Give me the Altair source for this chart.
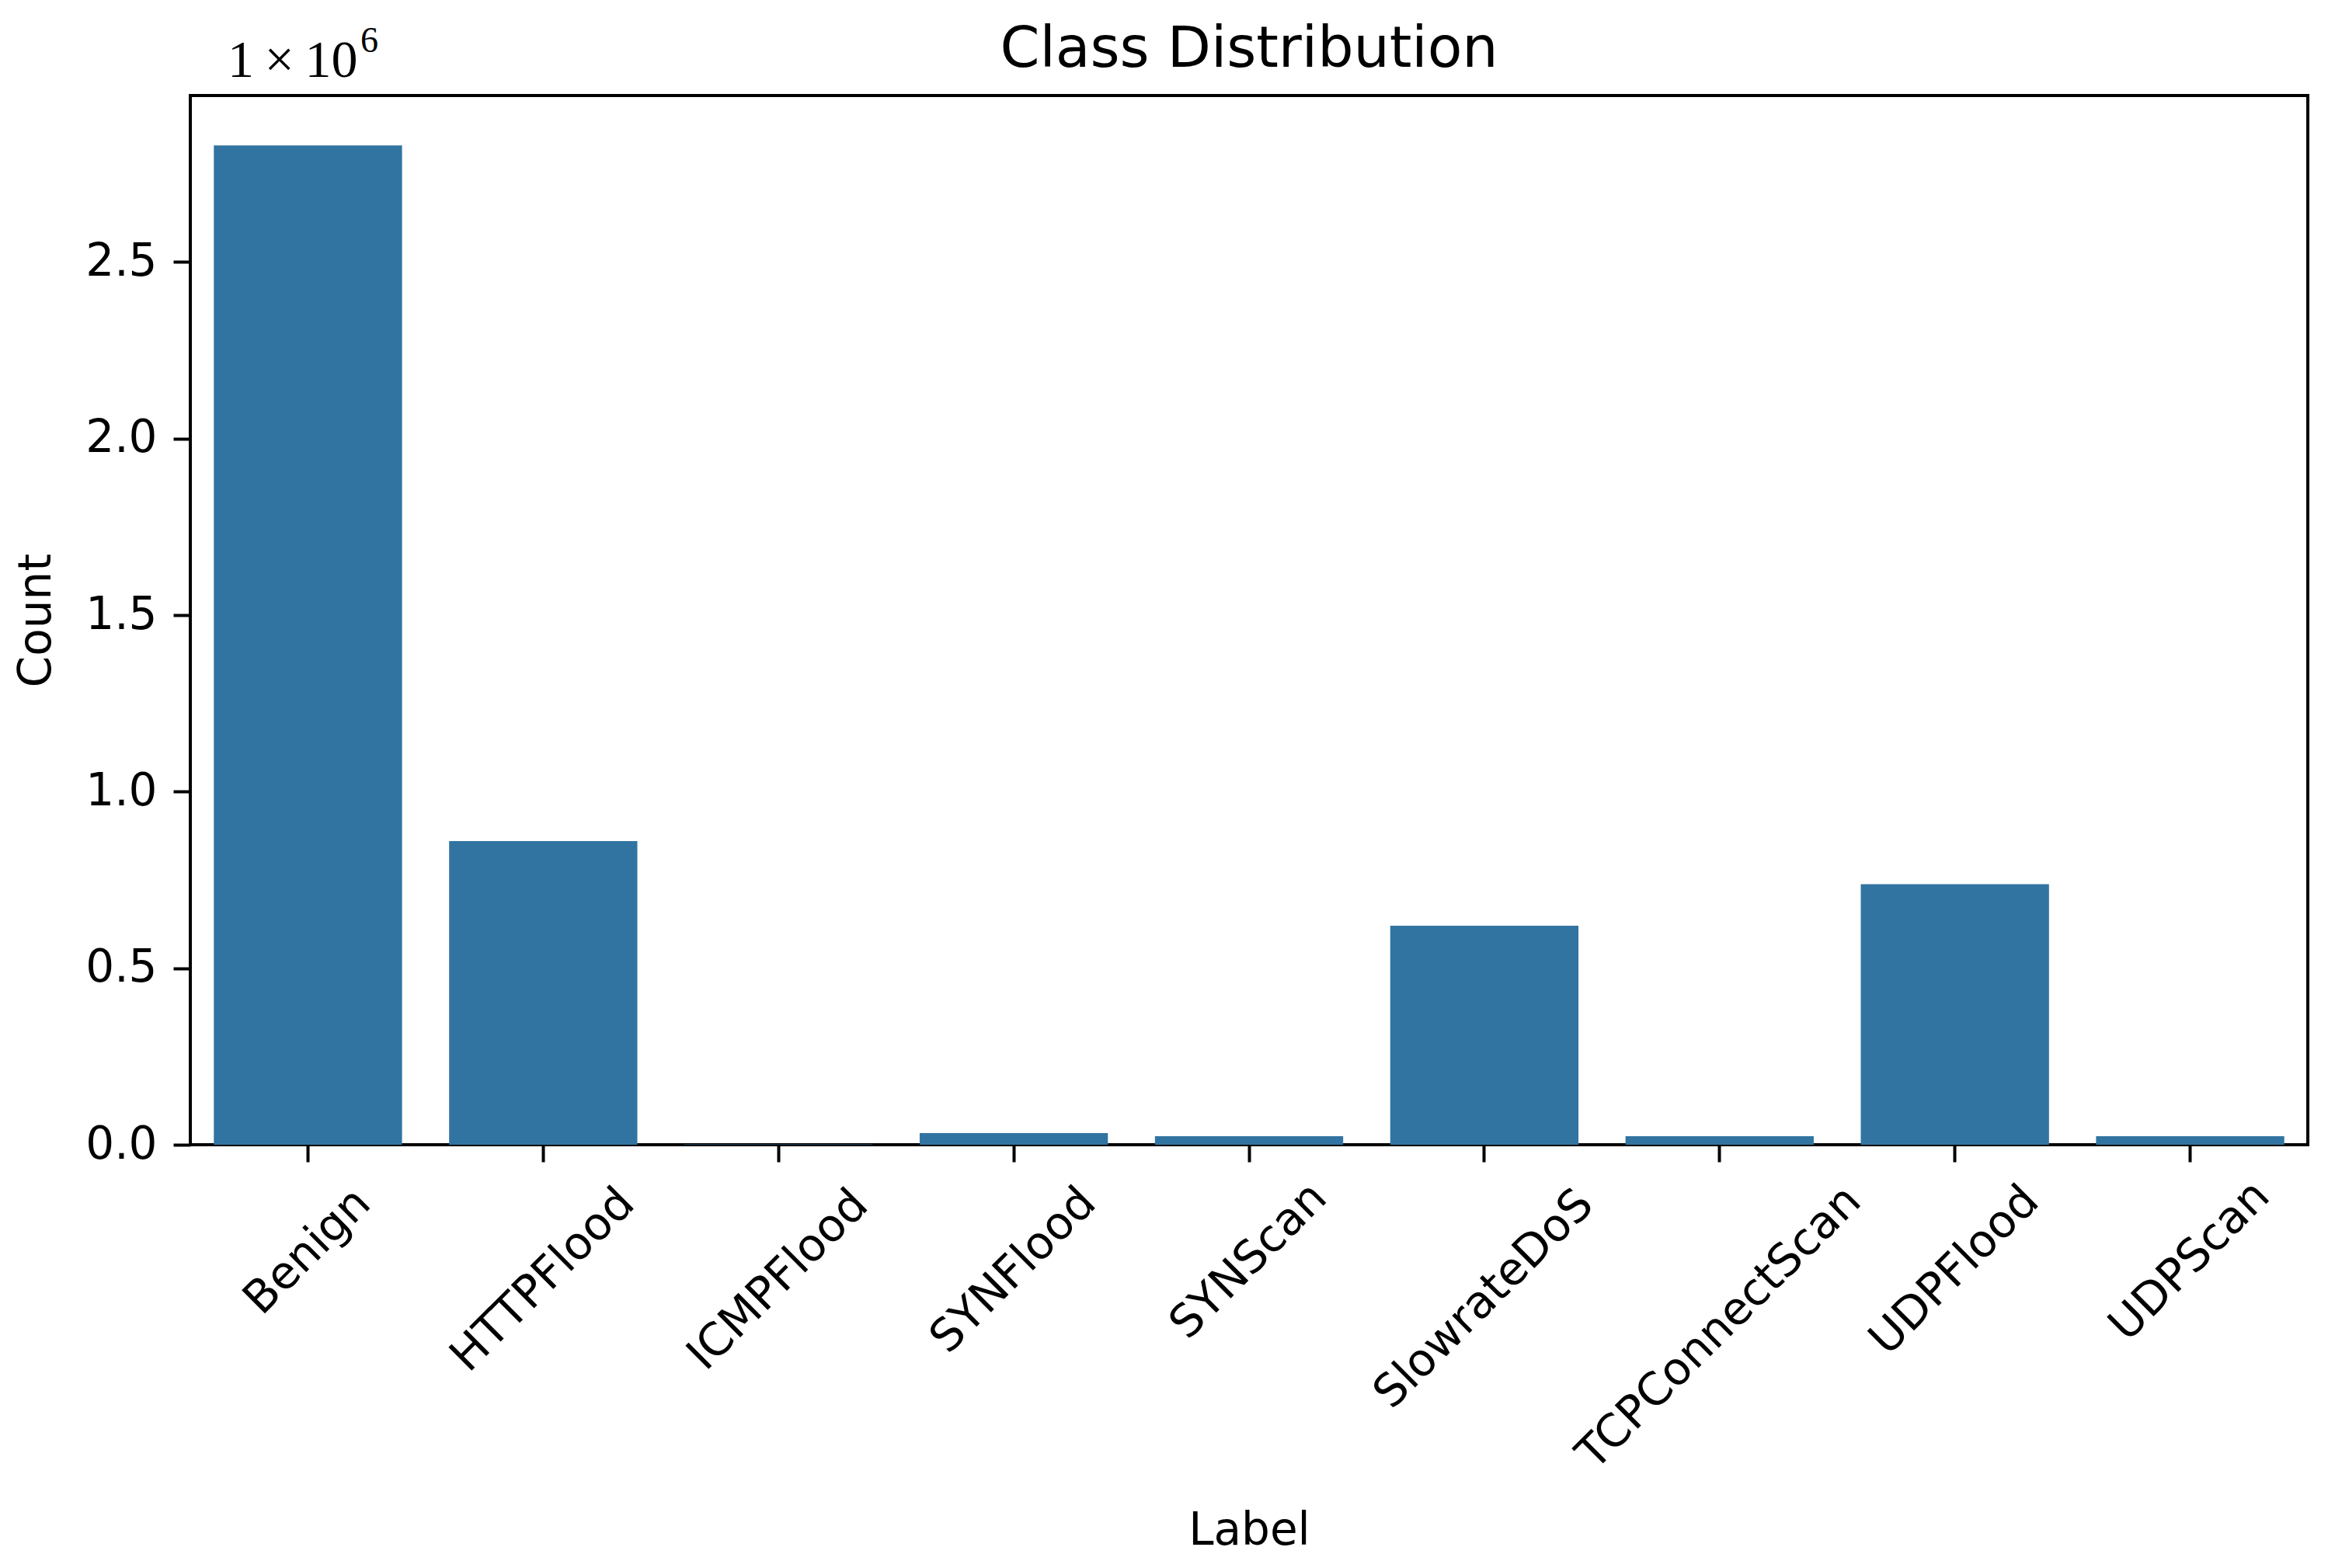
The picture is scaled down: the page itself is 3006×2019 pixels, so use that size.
import altair as alt
import pandas as pd

# ---- data ----
labels = ["Benign", "HTTPFlood", "ICMPFlood", "SYNFlood", "SYNScan",
          "SlowrateDoS", "TCPConnectScan", "UDPFlood", "UDPScan"]
counts = [2830000, 860000, 1000, 33000, 24000, 620000, 24000, 738000, 24000]
y_tick_values = [0, 500000, 1000000, 1500000, 2000000, 2500000]
y_domain_max = 2971500  # max * 1.05 (matplotlib margin)

title_text = ["Class Distribution"]
multiplier_text = ["1\u2009×\u200910"]
multiplier_exp = ["6"]

df = pd.DataFrame({"Label": labels, "Count": counts})

W, H = 2726, 1351
FONT = "DejaVu Sans"
FS = 58

bars = alt.Chart(df).mark_bar(color="#3274a1").encode(
    x=alt.X(
        "Label:N",
        sort=labels,
        scale=alt.Scale(paddingInner=0.2, paddingOuter=0.1),
        axis=alt.Axis(
            title="Label",
            labelAngle=-45,
            labelAlign="center",
            labelBaseline="middle",
            labelLimit=2000,
            labelPadding={"expr": "21 + 20.5*(0.6*length(datum.label) + 1)"},
            tickSize=22,
            tickWidth=4,
            tickColor="black",
            domain=False,
            grid=False,
            labelFont=FONT,
            labelFontSize=FS,
            labelColor="black",
            titleFont=FONT,
            titleFontSize=FS,
            titleFontWeight="normal",
            titleColor="black",
            titleY=497,
            titleBaseline="middle",
        ),
    ),
    y=alt.Y(
        "Count:Q",
        scale=alt.Scale(domain=[0, y_domain_max], nice=False, zero=True),
        axis=alt.Axis(
            title="Count",
            values=y_tick_values,
            labelExpr="format(datum.value / 1000000, '.1f')",
            tickSize=22,
            tickWidth=4,
            tickColor="black",
            labelPadding=21,
            domain=False,
            grid=False,
            labelFont=FONT,
            labelFontSize=FS,
            labelColor="black",
            titleFont=FONT,
            titleFontSize=FS,
            titleFontWeight="normal",
            titleColor="black",
            titleX=-198,
            titleBaseline="middle",
        ),
    ),
)

title = alt.Chart(pd.DataFrame({"t": title_text})).mark_text(
    font=FONT, fontSize=73, align="center", baseline="alphabetic", color="black"
).encode(x=alt.value(W / 2), y=alt.value(-37), text="t:N")

mult = alt.Chart(pd.DataFrame({"t": multiplier_text})).mark_text(
    font="Liberation Serif", fontSize=68, align="left", baseline="alphabetic", color="black"
).encode(x=alt.value(48), y=alt.value(-24), text="t:N")

expo = alt.Chart(pd.DataFrame({"t": multiplier_exp})).mark_text(
    font="Liberation Serif", fontSize=46, align="left", baseline="alphabetic", color="black"
).encode(x=alt.value(219), y=alt.value(-56), text="t:N")

chart = alt.layer(bars, title, mult, expo).properties(
    width=W,
    height=H,
    autosize=alt.AutoSizeParams(type="none"),
    padding={"left": 237, "top": 115, "right": 27, "bottom": 537},
).configure_view(stroke="black", strokeWidth=4)

chart.save("out.html", embed_options={"renderer": "svg", "actions": False})
